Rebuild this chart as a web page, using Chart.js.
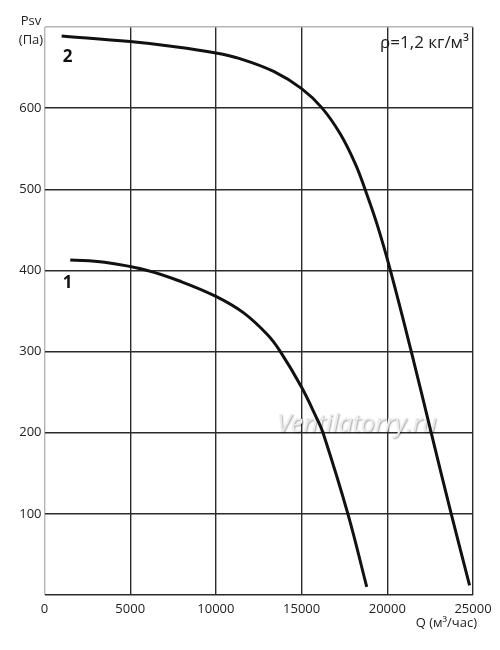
<!DOCTYPE html>
<html>
<head>
<meta charset="utf-8">
<script src="https://cdn.jsdelivr.net/npm/chart.js@4"></script>
<style>
  html, body { margin: 0; padding: 0; background: #fff; }
  #wrap { width: 500px; height: 650px; position: relative; }
</style>
</head>
<body>
<div id="wrap"><canvas id="chart"></canvas></div>
<script>
// Fan curves: static pressure Psv (Pa) vs flow Q (m3/h)
const curve1Q = [1500, 3500, 6000, 8000, 10000, 11600, 13000, 13760, 15000, 15900, 16250, 17700, 18800];
const curve1P = [413, 410, 400, 386, 368, 348, 321, 300, 256, 217, 200, 100, 10];

const curve2Q = [1000, 5000, 7500, 10000, 11400, 13400, 15000, 16200, 17260, 18140, 18700, 19400, 20180, 21400, 22560, 23730, 24800];
const curve2P = [689, 682, 676, 668, 661, 645, 624, 600, 568, 531, 500, 457, 400, 300, 200, 100, 12];

const xTicks = [0, 5000, 10000, 15000, 20000, 25000];
const yTicks = [100, 200, 300, 400, 500, 600];

const curveLabels = ['1', '2'];
const yTitle = ['Psv', '(Па)'];
const xTitle = 'Q (м³/час)';
const densityNote = 'ρ=1,2 кг/м³';
const watermark = 'Ventilatorry.ru';

const FONT = '"Open Sans", "DejaVu Sans", sans-serif';
const DARK = '#2b2b2b';
const LIGHT = '#b5b5b5';
const CURVE = '#111111';

function toPoints(qs, ps) {
    return qs.map((q, i) => ({x: q, y: ps[i]}));
}

const textPlugin = {
    id: 'textPlugin',
    beforeDatasetsDraw(chart) {
        const ctx = chart.ctx;
        ctx.save();
        ctx.font = 'italic 25px ' + FONT;
        ctx.textAlign = 'left';
        ctx.textBaseline = 'middle';
        ctx.shadowColor = 'rgba(0,0,0,0.35)';
        ctx.shadowBlur = 1.5;
        ctx.shadowOffsetX = 1;
        ctx.shadowOffsetY = 1;
        ctx.fillStyle = '#ececec';
        ctx.fillText(watermark, 277, 425);
        ctx.restore();
    },
    afterDraw(chart) {
        const ctx = chart.ctx;
        const xs = chart.scales.x;
        const ys = chart.scales.y;
        ctx.save();
        ctx.fillStyle = '#222';
        ctx.textBaseline = 'middle';
        ctx.textAlign = 'center';

        ctx.font = '13px ' + FONT;
        ctx.fillText(yTitle[0], 31, 21);
        ctx.fillText(yTitle[1], 31, 40);

        ctx.textAlign = 'right';
        ctx.fillText(xTitle, 477, 623);

        ctx.font = '17px ' + FONT;
        ctx.fillText(densityNote, 469, 43);

        // curve numbers
        ctx.font = 'bold 17px ' + FONT;
        ctx.textAlign = 'center';
        const l1x = xs.getPixelForValue(1350);
        const l1y = ys.getPixelForValue(384);
        ctx.fillStyle = '#fff';
        ctx.fillRect(l1x - 5, l1y - 11, 10, 20);
        ctx.fillStyle = '#111';
        ctx.fillText(curveLabels[0], l1x, l1y);
        ctx.fillText(curveLabels[1], xs.getPixelForValue(1350), ys.getPixelForValue(663));
        ctx.restore();
    }
};

const lineStyle = {
    borderColor: CURVE,
    backgroundColor: CURVE,
    borderWidth: 3,
    pointRadius: 0,
    fill: false,
    tension: 0.4,
};

new Chart(document.getElementById('chart'), {
    type: 'line',
    data: {
        datasets: [
            {label: curveLabels[0], data: toPoints(curve1Q, curve1P), ...lineStyle},
            {label: curveLabels[1], data: toPoints(curve2Q, curve2P), ...lineStyle},
        ]
    },
    options: {
        responsive: true,
        maintainAspectRatio: false,
        animation: false,
        layout: {padding: {top: 27, right: 27, bottom: 0, left: 0}},
        plugins: {
            legend: {display: false},
            tooltip: {enabled: false},
        },
        scales: {
            x: {
                type: 'linear',
                min: 0,
                max: 25000,
                afterFit: (scale) => { scale.height = 55; },
                afterBuildTicks: (scale) => { scale.ticks = xTicks.map(v => ({value: v})); },
                border: {display: false},
                grid: {
                    drawTicks: false,
                    lineWidth: 1.4,
                    color: (c) => (c.tick && c.tick.value === 0) ? LIGHT : DARK,
                },
                ticks: {
                    padding: 6,
                    color: '#222',
                    font: {family: FONT, size: 13},
                    maxRotation: 0,
                    callback: (v) => String(v),
                },
            },
            y: {
                type: 'linear',
                min: 0,
                max: 700,
                afterFit: (scale) => { scale.width = 44.5; },
                afterBuildTicks: (scale) => { scale.ticks = [0].concat(yTicks, [700]).map(v => ({value: v})); },
                border: {display: false},
                grid: {
                    drawTicks: false,
                    lineWidth: 1.4,
                    color: (c) => (c.tick && c.tick.value === 700) ? LIGHT : DARK,
                },
                ticks: {
                    padding: 3,
                    color: '#222',
                    font: {family: FONT, size: 13},
                    callback: (v) => yTicks.includes(v) ? String(v) : '',
                },
            },
        },
    },
    plugins: [textPlugin],
});
</script>
</body>
</html>
